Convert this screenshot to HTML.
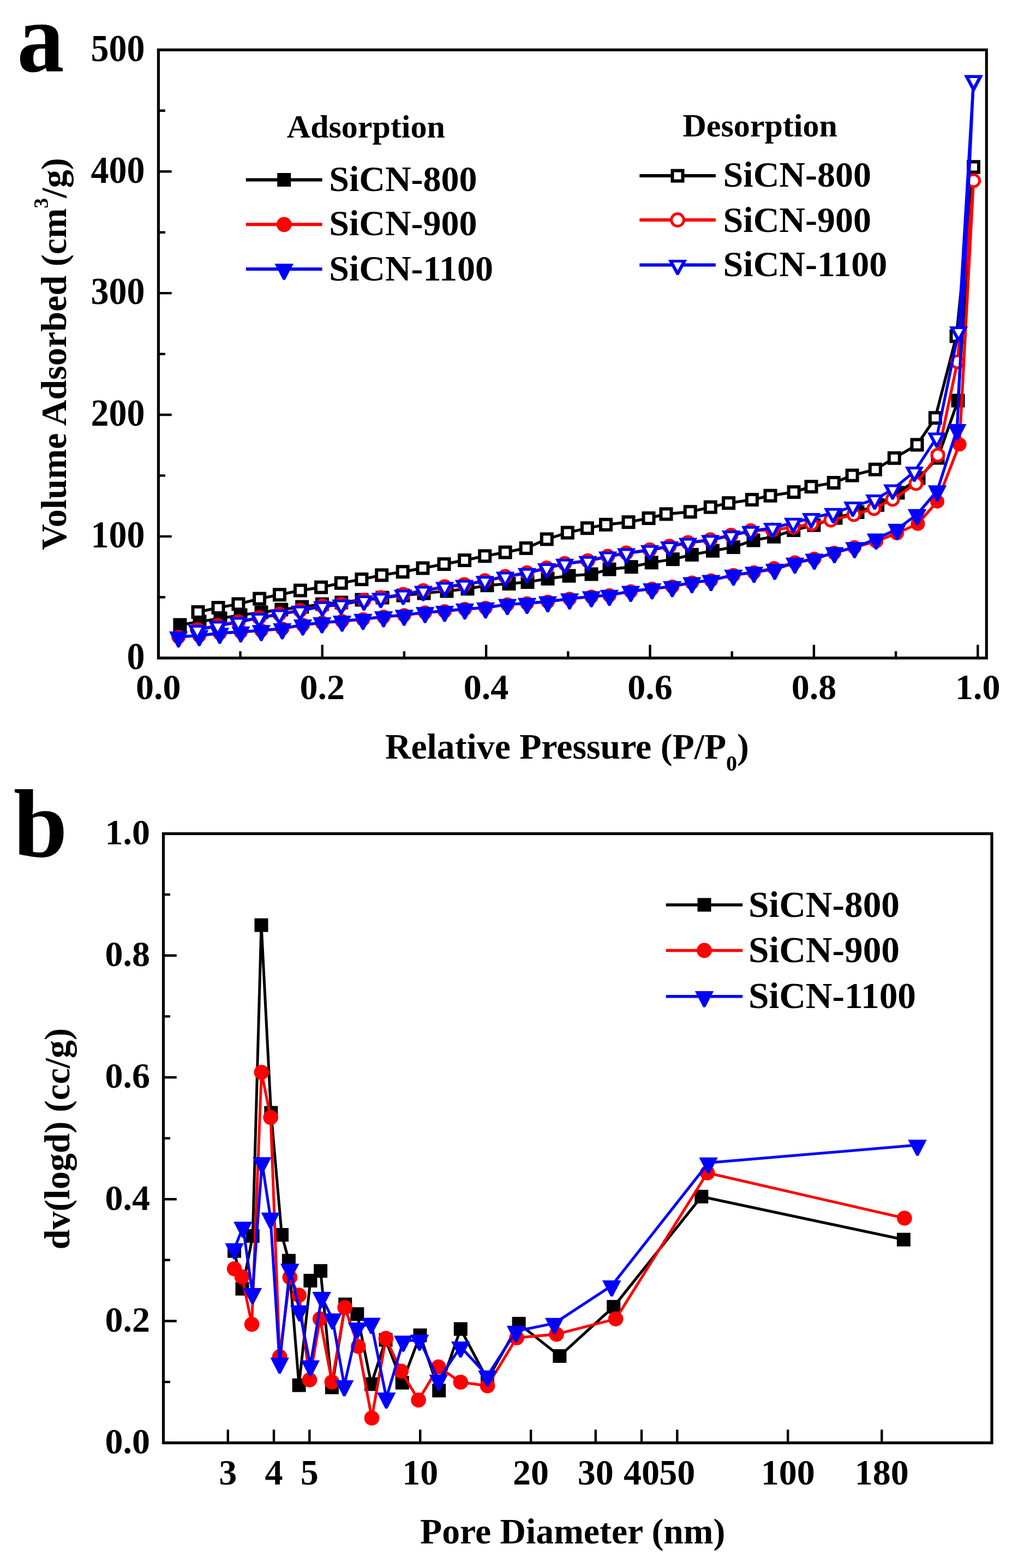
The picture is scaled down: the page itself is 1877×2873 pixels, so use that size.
<!DOCTYPE html><html><head><meta charset="utf-8"><title>SiCN N2 adsorption</title><style>html,body{margin:0;padding:0;background:#fff}svg{display:block}text{font-family:'Liberation Serif','Times New Roman',serif;font-weight:bold}</style></head><body>
<svg width="1877" height="2873" viewBox="0 0 1877 2873">
<rect width="1877" height="2873" fill="#fff"/>
<polyline points="329.9,1145 366,1139 404,1133 441,1127 479,1122 515.8,1117 553.7,1112 590.4,1107 625.8,1104 663,1099 701,1095 739,1091 777,1087 819,1083 857,1078.8 893,1072.6 933,1069.5 967,1066.5 1004,1060.3 1043,1055.1 1084,1052 1117,1043.2 1157.2,1038.7 1194.2,1030.8 1233.3,1024.7 1268.3,1016.4 1306.4,1009.2 1344.4,1002.6 1381,990 1418.6,983.3 1454.7,971.5 1491.9,962.2 1532,949 1572,938.5 1608.6,925.3 1646,903 1684,876 1719,839 1756,734 1784.5,306" fill="none" stroke="#000" stroke-width="5.2" stroke-linejoin="round"/><rect x="317.4" y="1132.5" width="25" height="25" fill="#000"/><rect x="353.5" y="1126.5" width="25" height="25" fill="#000"/><rect x="391.5" y="1120.5" width="25" height="25" fill="#000"/><rect x="428.5" y="1114.5" width="25" height="25" fill="#000"/><rect x="466.5" y="1109.5" width="25" height="25" fill="#000"/><rect x="503.3" y="1104.5" width="25" height="25" fill="#000"/><rect x="541.2" y="1099.5" width="25" height="25" fill="#000"/><rect x="577.9" y="1094.5" width="25" height="25" fill="#000"/><rect x="613.3" y="1091.5" width="25" height="25" fill="#000"/><rect x="650.5" y="1086.5" width="25" height="25" fill="#000"/><rect x="688.5" y="1082.5" width="25" height="25" fill="#000"/><rect x="726.5" y="1078.5" width="25" height="25" fill="#000"/><rect x="764.5" y="1074.5" width="25" height="25" fill="#000"/><rect x="806.5" y="1070.5" width="25" height="25" fill="#000"/><rect x="844.5" y="1066.3" width="25" height="25" fill="#000"/><rect x="880.5" y="1060.1" width="25" height="25" fill="#000"/><rect x="920.5" y="1057" width="25" height="25" fill="#000"/><rect x="954.5" y="1054" width="25" height="25" fill="#000"/><rect x="991.5" y="1047.8" width="25" height="25" fill="#000"/><rect x="1030.5" y="1042.6" width="25" height="25" fill="#000"/><rect x="1071.5" y="1039.5" width="25" height="25" fill="#000"/><rect x="1104.5" y="1030.7" width="25" height="25" fill="#000"/><rect x="1144.7" y="1026.2" width="25" height="25" fill="#000"/><rect x="1181.7" y="1018.3" width="25" height="25" fill="#000"/><rect x="1220.8" y="1012.2" width="25" height="25" fill="#000"/><rect x="1255.8" y="1003.9" width="25" height="25" fill="#000"/><rect x="1293.9" y="996.7" width="25" height="25" fill="#000"/><rect x="1331.9" y="990.1" width="25" height="25" fill="#000"/><rect x="1368.5" y="977.5" width="25" height="25" fill="#000"/><rect x="1406.1" y="970.8" width="25" height="25" fill="#000"/><rect x="1442.2" y="959" width="25" height="25" fill="#000"/><rect x="1479.4" y="949.7" width="25" height="25" fill="#000"/><rect x="1519.5" y="936.5" width="25" height="25" fill="#000"/><rect x="1559.5" y="926" width="25" height="25" fill="#000"/><rect x="1596.1" y="912.8" width="25" height="25" fill="#000"/><rect x="1633.5" y="890.5" width="25" height="25" fill="#000"/><rect x="1671.5" y="863.5" width="25" height="25" fill="#000"/><rect x="1706.5" y="826.5" width="25" height="25" fill="#000"/><rect x="1743.5" y="721.5" width="25" height="25" fill="#000"/><rect x="1772" y="293.5" width="25" height="25" fill="#000"/>
<polyline points="363,1121.4 400,1113.5 436.9,1106.8 475.6,1097 512.4,1089.7 550.4,1081.9 588.5,1076.1 625.3,1068.2 662.9,1061.5 699.7,1053.8 738.2,1047.7 775,1041 814,1033.6 851.6,1026.6 888.7,1018.8 926.1,1012 964.2,1004.4 1002.3,987.9 1040.3,976 1076.4,967.7 1110.5,961.3 1152,956.7 1189,949.5 1221,941.9 1265.2,937.8 1302.3,929.2 1335.6,921.7 1378.4,915.6 1412,908.2 1455.1,901.6 1487,891.7 1528.2,884.5 1562.1,871.1 1604.3,860.2 1639.3,839.3 1681,815 1714.3,765.7 1753,616 1784.5,306" fill="none" stroke="#000" stroke-width="5.2" stroke-linejoin="round"/><rect x="350.5" y="1108.9" width="25" height="25" fill="#000"/><rect x="356.5" y="1114.9" width="13" height="13" fill="#fff"/><rect x="387.5" y="1101" width="25" height="25" fill="#000"/><rect x="393.5" y="1107" width="13" height="13" fill="#fff"/><rect x="424.4" y="1094.3" width="25" height="25" fill="#000"/><rect x="430.4" y="1100.3" width="13" height="13" fill="#fff"/><rect x="463.1" y="1084.5" width="25" height="25" fill="#000"/><rect x="469.1" y="1090.5" width="13" height="13" fill="#fff"/><rect x="499.9" y="1077.2" width="25" height="25" fill="#000"/><rect x="505.9" y="1083.2" width="13" height="13" fill="#fff"/><rect x="537.9" y="1069.4" width="25" height="25" fill="#000"/><rect x="543.9" y="1075.4" width="13" height="13" fill="#fff"/><rect x="576" y="1063.6" width="25" height="25" fill="#000"/><rect x="582" y="1069.6" width="13" height="13" fill="#fff"/><rect x="612.8" y="1055.7" width="25" height="25" fill="#000"/><rect x="618.8" y="1061.7" width="13" height="13" fill="#fff"/><rect x="650.4" y="1049" width="25" height="25" fill="#000"/><rect x="656.4" y="1055" width="13" height="13" fill="#fff"/><rect x="687.2" y="1041.3" width="25" height="25" fill="#000"/><rect x="693.2" y="1047.3" width="13" height="13" fill="#fff"/><rect x="725.7" y="1035.2" width="25" height="25" fill="#000"/><rect x="731.7" y="1041.2" width="13" height="13" fill="#fff"/><rect x="762.5" y="1028.5" width="25" height="25" fill="#000"/><rect x="768.5" y="1034.5" width="13" height="13" fill="#fff"/><rect x="801.5" y="1021.1" width="25" height="25" fill="#000"/><rect x="807.5" y="1027.1" width="13" height="13" fill="#fff"/><rect x="839.1" y="1014.1" width="25" height="25" fill="#000"/><rect x="845.1" y="1020.1" width="13" height="13" fill="#fff"/><rect x="876.2" y="1006.3" width="25" height="25" fill="#000"/><rect x="882.2" y="1012.3" width="13" height="13" fill="#fff"/><rect x="913.6" y="999.5" width="25" height="25" fill="#000"/><rect x="919.6" y="1005.5" width="13" height="13" fill="#fff"/><rect x="951.7" y="991.9" width="25" height="25" fill="#000"/><rect x="957.7" y="997.9" width="13" height="13" fill="#fff"/><rect x="989.8" y="975.4" width="25" height="25" fill="#000"/><rect x="995.8" y="981.4" width="13" height="13" fill="#fff"/><rect x="1027.8" y="963.5" width="25" height="25" fill="#000"/><rect x="1033.8" y="969.5" width="13" height="13" fill="#fff"/><rect x="1063.9" y="955.2" width="25" height="25" fill="#000"/><rect x="1069.9" y="961.2" width="13" height="13" fill="#fff"/><rect x="1098" y="948.8" width="25" height="25" fill="#000"/><rect x="1104" y="954.8" width="13" height="13" fill="#fff"/><rect x="1139.5" y="944.2" width="25" height="25" fill="#000"/><rect x="1145.5" y="950.2" width="13" height="13" fill="#fff"/><rect x="1176.5" y="937" width="25" height="25" fill="#000"/><rect x="1182.5" y="943" width="13" height="13" fill="#fff"/><rect x="1208.5" y="929.4" width="25" height="25" fill="#000"/><rect x="1214.5" y="935.4" width="13" height="13" fill="#fff"/><rect x="1252.7" y="925.3" width="25" height="25" fill="#000"/><rect x="1258.7" y="931.3" width="13" height="13" fill="#fff"/><rect x="1289.8" y="916.7" width="25" height="25" fill="#000"/><rect x="1295.8" y="922.7" width="13" height="13" fill="#fff"/><rect x="1323.1" y="909.2" width="25" height="25" fill="#000"/><rect x="1329.1" y="915.2" width="13" height="13" fill="#fff"/><rect x="1365.9" y="903.1" width="25" height="25" fill="#000"/><rect x="1371.9" y="909.1" width="13" height="13" fill="#fff"/><rect x="1399.5" y="895.7" width="25" height="25" fill="#000"/><rect x="1405.5" y="901.7" width="13" height="13" fill="#fff"/><rect x="1442.6" y="889.1" width="25" height="25" fill="#000"/><rect x="1448.6" y="895.1" width="13" height="13" fill="#fff"/><rect x="1474.5" y="879.2" width="25" height="25" fill="#000"/><rect x="1480.5" y="885.2" width="13" height="13" fill="#fff"/><rect x="1515.7" y="872" width="25" height="25" fill="#000"/><rect x="1521.7" y="878" width="13" height="13" fill="#fff"/><rect x="1549.6" y="858.6" width="25" height="25" fill="#000"/><rect x="1555.6" y="864.6" width="13" height="13" fill="#fff"/><rect x="1591.8" y="847.7" width="25" height="25" fill="#000"/><rect x="1597.8" y="853.7" width="13" height="13" fill="#fff"/><rect x="1626.8" y="826.8" width="25" height="25" fill="#000"/><rect x="1632.8" y="832.8" width="13" height="13" fill="#fff"/><rect x="1668.5" y="802.5" width="25" height="25" fill="#000"/><rect x="1674.5" y="808.5" width="13" height="13" fill="#fff"/><rect x="1701.8" y="753.2" width="25" height="25" fill="#000"/><rect x="1707.8" y="759.2" width="13" height="13" fill="#fff"/><rect x="1740.5" y="603.5" width="25" height="25" fill="#000"/><rect x="1746.5" y="609.5" width="13" height="13" fill="#fff"/><rect x="1772" y="293.5" width="25" height="25" fill="#000"/><rect x="1778" y="299.5" width="13" height="13" fill="#fff"/>
<polyline points="327.2,1167.1 365.2,1164.5 402.8,1160.3 441.3,1157.8 478.9,1155.3 517.4,1151.9 555,1145 590.2,1141 627,1138.1 665.4,1134.7 703,1130.1 740.7,1127.2 779.1,1122.2 815,1119.9 852,1115.8 890,1113.7 930,1107.5 966,1105.5 1004,1102.4 1044,1097.2 1084,1093.2 1117,1090.7 1156.1,1083.5 1195.2,1078.8 1232.3,1074.7 1268.3,1067.5 1303.3,1063.4 1344.4,1053.7 1381.9,1048.8 1418.8,1040.9 1457,1030.4 1492.6,1023.8 1529,1013 1566,1002.7 1606,991.9 1644,977 1682.4,959.7 1718,918.9 1758.6,814.3 1784.5,331" fill="none" stroke="#f00" stroke-width="5.2" stroke-linejoin="round"/><circle cx="327.2" cy="1167.1" r="13" fill="#f00"/><circle cx="365.2" cy="1164.5" r="13" fill="#f00"/><circle cx="402.8" cy="1160.3" r="13" fill="#f00"/><circle cx="441.3" cy="1157.8" r="13" fill="#f00"/><circle cx="478.9" cy="1155.3" r="13" fill="#f00"/><circle cx="517.4" cy="1151.9" r="13" fill="#f00"/><circle cx="555" cy="1145" r="13" fill="#f00"/><circle cx="590.2" cy="1141" r="13" fill="#f00"/><circle cx="627" cy="1138.1" r="13" fill="#f00"/><circle cx="665.4" cy="1134.7" r="13" fill="#f00"/><circle cx="703" cy="1130.1" r="13" fill="#f00"/><circle cx="740.7" cy="1127.2" r="13" fill="#f00"/><circle cx="779.1" cy="1122.2" r="13" fill="#f00"/><circle cx="815" cy="1119.9" r="13" fill="#f00"/><circle cx="852" cy="1115.8" r="13" fill="#f00"/><circle cx="890" cy="1113.7" r="13" fill="#f00"/><circle cx="930" cy="1107.5" r="13" fill="#f00"/><circle cx="966" cy="1105.5" r="13" fill="#f00"/><circle cx="1004" cy="1102.4" r="13" fill="#f00"/><circle cx="1044" cy="1097.2" r="13" fill="#f00"/><circle cx="1084" cy="1093.2" r="13" fill="#f00"/><circle cx="1117" cy="1090.7" r="13" fill="#f00"/><circle cx="1156.1" cy="1083.5" r="13" fill="#f00"/><circle cx="1195.2" cy="1078.8" r="13" fill="#f00"/><circle cx="1232.3" cy="1074.7" r="13" fill="#f00"/><circle cx="1268.3" cy="1067.5" r="13" fill="#f00"/><circle cx="1303.3" cy="1063.4" r="13" fill="#f00"/><circle cx="1344.4" cy="1053.7" r="13" fill="#f00"/><circle cx="1381.9" cy="1048.8" r="13" fill="#f00"/><circle cx="1418.8" cy="1040.9" r="13" fill="#f00"/><circle cx="1457" cy="1030.4" r="13" fill="#f00"/><circle cx="1492.6" cy="1023.8" r="13" fill="#f00"/><circle cx="1529" cy="1013" r="13" fill="#f00"/><circle cx="1566" cy="1002.7" r="13" fill="#f00"/><circle cx="1606" cy="991.9" r="13" fill="#f00"/><circle cx="1644" cy="977" r="13" fill="#f00"/><circle cx="1682.4" cy="959.7" r="13" fill="#f00"/><circle cx="1718" cy="918.9" r="13" fill="#f00"/><circle cx="1758.6" cy="814.3" r="13" fill="#f00"/><circle cx="1784.5" cy="331" r="13" fill="#f00"/>
<polyline points="361.7,1153.4 399,1146.1 436.8,1138.9 475,1131.5 512,1125 550,1118.2 591,1110.3 625.3,1107 667.1,1099.4 698,1094.8 739,1089 775.8,1081.9 815,1074.7 851,1070.9 888.7,1063.7 926,1056 966,1049.3 1002,1040.5 1035,1032.3 1077.4,1027.2 1114,1019.1 1148,1013 1191,1007.3 1227,1000.6 1261,993.9 1302,988.8 1340,980.5 1376,972.3 1416,971 1454,966 1488,960 1523,953 1565,943 1602,932 1636,915 1679,886 1719,834 1755,663 1784.5,331" fill="none" stroke="#f00" stroke-width="5.2" stroke-linejoin="round"/><circle cx="361.7" cy="1153.4" r="13.5" fill="#f00"/><circle cx="361.7" cy="1153.4" r="8.5" fill="#fff"/><circle cx="399" cy="1146.1" r="13.5" fill="#f00"/><circle cx="399" cy="1146.1" r="8.5" fill="#fff"/><circle cx="436.8" cy="1138.9" r="13.5" fill="#f00"/><circle cx="436.8" cy="1138.9" r="8.5" fill="#fff"/><circle cx="475" cy="1131.5" r="13.5" fill="#f00"/><circle cx="475" cy="1131.5" r="8.5" fill="#fff"/><circle cx="512" cy="1125" r="13.5" fill="#f00"/><circle cx="512" cy="1125" r="8.5" fill="#fff"/><circle cx="550" cy="1118.2" r="13.5" fill="#f00"/><circle cx="550" cy="1118.2" r="8.5" fill="#fff"/><circle cx="591" cy="1110.3" r="13.5" fill="#f00"/><circle cx="591" cy="1110.3" r="8.5" fill="#fff"/><circle cx="625.3" cy="1107" r="13.5" fill="#f00"/><circle cx="625.3" cy="1107" r="8.5" fill="#fff"/><circle cx="667.1" cy="1099.4" r="13.5" fill="#f00"/><circle cx="667.1" cy="1099.4" r="8.5" fill="#fff"/><circle cx="698" cy="1094.8" r="13.5" fill="#f00"/><circle cx="698" cy="1094.8" r="8.5" fill="#fff"/><circle cx="739" cy="1089" r="13.5" fill="#f00"/><circle cx="739" cy="1089" r="8.5" fill="#fff"/><circle cx="775.8" cy="1081.9" r="13.5" fill="#f00"/><circle cx="775.8" cy="1081.9" r="8.5" fill="#fff"/><circle cx="815" cy="1074.7" r="13.5" fill="#f00"/><circle cx="815" cy="1074.7" r="8.5" fill="#fff"/><circle cx="851" cy="1070.9" r="13.5" fill="#f00"/><circle cx="851" cy="1070.9" r="8.5" fill="#fff"/><circle cx="888.7" cy="1063.7" r="13.5" fill="#f00"/><circle cx="888.7" cy="1063.7" r="8.5" fill="#fff"/><circle cx="926" cy="1056" r="13.5" fill="#f00"/><circle cx="926" cy="1056" r="8.5" fill="#fff"/><circle cx="966" cy="1049.3" r="13.5" fill="#f00"/><circle cx="966" cy="1049.3" r="8.5" fill="#fff"/><circle cx="1002" cy="1040.5" r="13.5" fill="#f00"/><circle cx="1002" cy="1040.5" r="8.5" fill="#fff"/><circle cx="1035" cy="1032.3" r="13.5" fill="#f00"/><circle cx="1035" cy="1032.3" r="8.5" fill="#fff"/><circle cx="1077.4" cy="1027.2" r="13.5" fill="#f00"/><circle cx="1077.4" cy="1027.2" r="8.5" fill="#fff"/><circle cx="1114" cy="1019.1" r="13.5" fill="#f00"/><circle cx="1114" cy="1019.1" r="8.5" fill="#fff"/><circle cx="1148" cy="1013" r="13.5" fill="#f00"/><circle cx="1148" cy="1013" r="8.5" fill="#fff"/><circle cx="1191" cy="1007.3" r="13.5" fill="#f00"/><circle cx="1191" cy="1007.3" r="8.5" fill="#fff"/><circle cx="1227" cy="1000.6" r="13.5" fill="#f00"/><circle cx="1227" cy="1000.6" r="8.5" fill="#fff"/><circle cx="1261" cy="993.9" r="13.5" fill="#f00"/><circle cx="1261" cy="993.9" r="8.5" fill="#fff"/><circle cx="1302" cy="988.8" r="13.5" fill="#f00"/><circle cx="1302" cy="988.8" r="8.5" fill="#fff"/><circle cx="1340" cy="980.5" r="13.5" fill="#f00"/><circle cx="1340" cy="980.5" r="8.5" fill="#fff"/><circle cx="1376" cy="972.3" r="13.5" fill="#f00"/><circle cx="1376" cy="972.3" r="8.5" fill="#fff"/><circle cx="1416" cy="971" r="13.5" fill="#f00"/><circle cx="1416" cy="971" r="8.5" fill="#fff"/><circle cx="1454" cy="966" r="13.5" fill="#f00"/><circle cx="1454" cy="966" r="8.5" fill="#fff"/><circle cx="1488" cy="960" r="13.5" fill="#f00"/><circle cx="1488" cy="960" r="8.5" fill="#fff"/><circle cx="1523" cy="953" r="13.5" fill="#f00"/><circle cx="1523" cy="953" r="8.5" fill="#fff"/><circle cx="1565" cy="943" r="13.5" fill="#f00"/><circle cx="1565" cy="943" r="8.5" fill="#fff"/><circle cx="1602" cy="932" r="13.5" fill="#f00"/><circle cx="1602" cy="932" r="8.5" fill="#fff"/><circle cx="1636" cy="915" r="13.5" fill="#f00"/><circle cx="1636" cy="915" r="8.5" fill="#fff"/><circle cx="1679" cy="886" r="13.5" fill="#f00"/><circle cx="1679" cy="886" r="8.5" fill="#fff"/><circle cx="1719" cy="834" r="13.5" fill="#f00"/><circle cx="1719" cy="834" r="8.5" fill="#fff"/><circle cx="1755" cy="663" r="13.5" fill="#f00"/><circle cx="1755" cy="663" r="8.5" fill="#fff"/><circle cx="1784.5" cy="331" r="13.5" fill="#f00"/><circle cx="1784.5" cy="331" r="8.5" fill="#fff"/>
<polyline points="327.2,1166.9 365.2,1164.3 402.8,1160.1 441.3,1157.6 478.9,1155.1 517.4,1151.7 555,1144.8 590.2,1140.8 627,1137.9 665.4,1134.5 703,1129.9 740.7,1127 779.1,1122 815,1119.7 852,1115.6 890,1113.5 930,1107.3 966,1105.3 1004,1102.2 1044,1097 1084,1093 1117,1090.5 1156.1,1083.3 1195.2,1078.6 1232.3,1074.5 1268.3,1067.3 1303.3,1063.2 1344.4,1053.5 1382,1048.3 1420.1,1042.7 1457,1031.5 1492.6,1024.2 1529.5,1012.4 1566.4,1003.1 1606,987.3 1644.2,969.5 1681.1,942.5 1718,899 1754.3,786.7 1784.5,147.2" fill="none" stroke="#00f" stroke-width="5.2" stroke-linejoin="round"/><polygon points="309.9,1157.1 344.4,1157.1 329.2,1186.6 325.2,1186.6" fill="#00f"/><polygon points="347.9,1154.5 382.4,1154.5 367.2,1184 363.2,1184" fill="#00f"/><polygon points="385.6,1150.3 420.1,1150.3 404.8,1179.8 400.8,1179.8" fill="#00f"/><polygon points="424.1,1147.8 458.6,1147.8 443.3,1177.3 439.3,1177.3" fill="#00f"/><polygon points="461.6,1145.3 496.1,1145.3 480.9,1174.8 476.9,1174.8" fill="#00f"/><polygon points="500.1,1141.9 534.6,1141.9 519.4,1171.4 515.4,1171.4" fill="#00f"/><polygon points="537.8,1135 572.2,1135 557,1164.5 553,1164.5" fill="#00f"/><polygon points="573,1131 607.5,1131 592.2,1160.5 588.2,1160.5" fill="#00f"/><polygon points="609.8,1128.1 644.2,1128.1 629,1157.6 625,1157.6" fill="#00f"/><polygon points="648.1,1124.7 682.6,1124.7 667.4,1154.2 663.4,1154.2" fill="#00f"/><polygon points="685.8,1120.1 720.2,1120.1 705,1149.6 701,1149.6" fill="#00f"/><polygon points="723.5,1117.2 758,1117.2 742.7,1146.7 738.7,1146.7" fill="#00f"/><polygon points="761.9,1112.2 796.4,1112.2 781.1,1141.7 777.1,1141.7" fill="#00f"/><polygon points="797.8,1109.9 832.2,1109.9 817,1139.4 813,1139.4" fill="#00f"/><polygon points="834.8,1105.8 869.2,1105.8 854,1135.3 850,1135.3" fill="#00f"/><polygon points="872.8,1103.7 907.2,1103.7 892,1133.2 888,1133.2" fill="#00f"/><polygon points="912.8,1097.5 947.2,1097.5 932,1127 928,1127" fill="#00f"/><polygon points="948.8,1095.5 983.2,1095.5 968,1125 964,1125" fill="#00f"/><polygon points="986.8,1092.4 1021.2,1092.4 1006,1121.9 1002,1121.9" fill="#00f"/><polygon points="1026.8,1087.2 1061.2,1087.2 1046,1116.7 1042,1116.7" fill="#00f"/><polygon points="1066.8,1083.2 1101.2,1083.2 1086,1112.7 1082,1112.7" fill="#00f"/><polygon points="1099.8,1080.7 1134.2,1080.7 1119,1110.2 1115,1110.2" fill="#00f"/><polygon points="1138.8,1073.5 1173.3,1073.5 1158.1,1103 1154.1,1103" fill="#00f"/><polygon points="1178,1068.8 1212.5,1068.8 1197.2,1098.3 1193.2,1098.3" fill="#00f"/><polygon points="1215,1064.7 1249.5,1064.7 1234.3,1094.2 1230.3,1094.2" fill="#00f"/><polygon points="1251,1057.5 1285.5,1057.5 1270.3,1087 1266.3,1087" fill="#00f"/><polygon points="1286,1053.4 1320.5,1053.4 1305.3,1082.9 1301.3,1082.9" fill="#00f"/><polygon points="1327.2,1043.7 1361.7,1043.7 1346.4,1073.2 1342.4,1073.2" fill="#00f"/><polygon points="1364.8,1038.5 1399.2,1038.5 1384,1068 1380,1068" fill="#00f"/><polygon points="1402.8,1032.9 1437.3,1032.9 1422.1,1062.4 1418.1,1062.4" fill="#00f"/><polygon points="1439.8,1021.7 1474.2,1021.7 1459,1051.2 1455,1051.2" fill="#00f"/><polygon points="1475.3,1014.4 1509.8,1014.4 1494.6,1043.9 1490.6,1043.9" fill="#00f"/><polygon points="1512.2,1002.6 1546.8,1002.6 1531.5,1032.1 1527.5,1032.1" fill="#00f"/><polygon points="1549.2,993.3 1583.7,993.3 1568.4,1022.8 1564.4,1022.8" fill="#00f"/><polygon points="1588.8,977.5 1623.2,977.5 1608,1007 1604,1007" fill="#00f"/><polygon points="1627,959.7 1661.5,959.7 1646.2,989.2 1642.2,989.2" fill="#00f"/><polygon points="1663.8,932.7 1698.3,932.7 1683.1,962.2 1679.1,962.2" fill="#00f"/><polygon points="1700.8,889.2 1735.2,889.2 1720,918.7 1716,918.7" fill="#00f"/><polygon points="1737,776.9 1771.5,776.9 1756.3,806.4 1752.3,806.4" fill="#00f"/><polygon points="1767.2,137.4 1801.8,137.4 1786.5,166.9 1782.5,166.9" fill="#00f"/>
<polyline points="361.7,1154.2 399,1146.9 436.8,1139.7 475,1132.3 512,1125.8 550,1119 591,1111.1 625.3,1107.8 667.1,1100.2 698,1095.6 739,1089.8 775.8,1082.7 815,1075.5 851,1071.7 888.7,1064.5 926,1056.8 966,1050.1 1002,1041.3 1035,1033.1 1077.4,1028 1114,1019.9 1148,1013.8 1191,1008.1 1227,1001.4 1261,994.7 1302,989.6 1340,981.3 1376,973.1 1416,967.3 1454,958 1487,949.3 1527.1,940 1563.2,928.2 1603.3,915.3 1636.2,896.8 1676,864.3 1717,801.7 1757.1,607.4 1784.5,147.2" fill="none" stroke="#00f" stroke-width="5.2" stroke-linejoin="round"/><polygon points="344.5,1144.9 378.9,1144.9 363.7,1172.9 359.7,1172.9" fill="#00f"/><polygon points="353.9,1149.9 369.4,1149.9 361.7,1164.4" fill="#fff"/><polygon points="381.8,1137.6 416.2,1137.6 401,1165.6 397,1165.6" fill="#00f"/><polygon points="391.2,1142.6 406.8,1142.6 399,1157.1" fill="#fff"/><polygon points="419.6,1130.4 454,1130.4 438.8,1158.4 434.8,1158.4" fill="#00f"/><polygon points="429.1,1135.4 444.6,1135.4 436.8,1149.9" fill="#fff"/><polygon points="457.8,1123 492.2,1123 477,1151 473,1151" fill="#00f"/><polygon points="467.2,1128 482.8,1128 475,1142.5" fill="#fff"/><polygon points="494.8,1116.5 529.2,1116.5 514,1144.5 510,1144.5" fill="#00f"/><polygon points="504.2,1121.5 519.8,1121.5 512,1136" fill="#fff"/><polygon points="532.8,1109.7 567.2,1109.7 552,1137.7 548,1137.7" fill="#00f"/><polygon points="542.2,1114.7 557.8,1114.7 550,1129.2" fill="#fff"/><polygon points="573.8,1101.8 608.2,1101.8 593,1129.8 589,1129.8" fill="#00f"/><polygon points="583.2,1106.8 598.8,1106.8 591,1121.3" fill="#fff"/><polygon points="608.1,1098.5 642.5,1098.5 627.3,1126.5 623.3,1126.5" fill="#00f"/><polygon points="617.5,1103.5 633,1103.5 625.3,1118" fill="#fff"/><polygon points="649.9,1090.9 684.3,1090.9 669.1,1118.9 665.1,1118.9" fill="#00f"/><polygon points="659.4,1095.9 674.9,1095.9 667.1,1110.4" fill="#fff"/><polygon points="680.8,1086.3 715.2,1086.3 700,1114.3 696,1114.3" fill="#00f"/><polygon points="690.2,1091.3 705.8,1091.3 698,1105.8" fill="#fff"/><polygon points="721.8,1080.5 756.2,1080.5 741,1108.5 737,1108.5" fill="#00f"/><polygon points="731.2,1085.5 746.8,1085.5 739,1100" fill="#fff"/><polygon points="758.6,1073.4 793,1073.4 777.8,1101.4 773.8,1101.4" fill="#00f"/><polygon points="768,1078.4 783.5,1078.4 775.8,1092.9" fill="#fff"/><polygon points="797.8,1066.2 832.2,1066.2 817,1094.2 813,1094.2" fill="#00f"/><polygon points="807.2,1071.2 822.8,1071.2 815,1085.7" fill="#fff"/><polygon points="833.8,1062.4 868.2,1062.4 853,1090.4 849,1090.4" fill="#00f"/><polygon points="843.2,1067.4 858.8,1067.4 851,1081.9" fill="#fff"/><polygon points="871.5,1055.2 905.9,1055.2 890.7,1083.2 886.7,1083.2" fill="#00f"/><polygon points="881,1060.2 896.5,1060.2 888.7,1074.7" fill="#fff"/><polygon points="908.8,1047.5 943.2,1047.5 928,1075.5 924,1075.5" fill="#00f"/><polygon points="918.2,1052.5 933.8,1052.5 926,1067" fill="#fff"/><polygon points="948.8,1040.8 983.2,1040.8 968,1068.8 964,1068.8" fill="#00f"/><polygon points="958.2,1045.8 973.8,1045.8 966,1060.3" fill="#fff"/><polygon points="984.8,1032 1019.2,1032 1004,1060 1000,1060" fill="#00f"/><polygon points="994.2,1037 1009.8,1037 1002,1051.5" fill="#fff"/><polygon points="1017.8,1023.8 1052.2,1023.8 1037,1051.8 1033,1051.8" fill="#00f"/><polygon points="1027.2,1028.8 1042.8,1028.8 1035,1043.3" fill="#fff"/><polygon points="1060.2,1018.7 1094.6,1018.7 1079.4,1046.7 1075.4,1046.7" fill="#00f"/><polygon points="1069.7,1023.7 1085.2,1023.7 1077.4,1038.2" fill="#fff"/><polygon points="1096.8,1010.6 1131.2,1010.6 1116,1038.6 1112,1038.6" fill="#00f"/><polygon points="1106.2,1015.6 1121.8,1015.6 1114,1030.1" fill="#fff"/><polygon points="1130.8,1004.5 1165.2,1004.5 1150,1032.5 1146,1032.5" fill="#00f"/><polygon points="1140.2,1009.5 1155.8,1009.5 1148,1024" fill="#fff"/><polygon points="1173.8,998.8 1208.2,998.8 1193,1026.8 1189,1026.8" fill="#00f"/><polygon points="1183.2,1003.8 1198.8,1003.8 1191,1018.3" fill="#fff"/><polygon points="1209.8,992.1 1244.2,992.1 1229,1020.1 1225,1020.1" fill="#00f"/><polygon points="1219.2,997.1 1234.8,997.1 1227,1011.6" fill="#fff"/><polygon points="1243.8,985.4 1278.2,985.4 1263,1013.4 1259,1013.4" fill="#00f"/><polygon points="1253.2,990.4 1268.8,990.4 1261,1004.9" fill="#fff"/><polygon points="1284.8,980.3 1319.2,980.3 1304,1008.3 1300,1008.3" fill="#00f"/><polygon points="1294.2,985.3 1309.8,985.3 1302,999.8" fill="#fff"/><polygon points="1322.8,972 1357.2,972 1342,1000 1338,1000" fill="#00f"/><polygon points="1332.2,977 1347.8,977 1340,991.5" fill="#fff"/><polygon points="1358.8,963.8 1393.2,963.8 1378,991.8 1374,991.8" fill="#00f"/><polygon points="1368.2,968.8 1383.8,968.8 1376,983.3" fill="#fff"/><polygon points="1398.8,958 1433.2,958 1418,986 1414,986" fill="#00f"/><polygon points="1408.2,963 1423.8,963 1416,977.5" fill="#fff"/><polygon points="1436.8,948.7 1471.2,948.7 1456,976.7 1452,976.7" fill="#00f"/><polygon points="1446.2,953.7 1461.8,953.7 1454,968.2" fill="#fff"/><polygon points="1469.8,940 1504.2,940 1489,968 1485,968" fill="#00f"/><polygon points="1479.2,945 1494.8,945 1487,959.5" fill="#fff"/><polygon points="1509.9,930.7 1544.3,930.7 1529.1,958.7 1525.1,958.7" fill="#00f"/><polygon points="1519.3,935.7 1534.8,935.7 1527.1,950.2" fill="#fff"/><polygon points="1546,918.9 1580.4,918.9 1565.2,946.9 1561.2,946.9" fill="#00f"/><polygon points="1555.5,923.9 1571,923.9 1563.2,938.4" fill="#fff"/><polygon points="1586.1,906 1620.5,906 1605.3,934 1601.3,934" fill="#00f"/><polygon points="1595.5,911 1611,911 1603.3,925.5" fill="#fff"/><polygon points="1619,887.5 1653.4,887.5 1638.2,915.5 1634.2,915.5" fill="#00f"/><polygon points="1628.5,892.5 1644,892.5 1636.2,907" fill="#fff"/><polygon points="1658.8,855 1693.2,855 1678,883 1674,883" fill="#00f"/><polygon points="1668.2,860 1683.8,860 1676,874.5" fill="#fff"/><polygon points="1699.8,792.4 1734.2,792.4 1719,820.4 1715,820.4" fill="#00f"/><polygon points="1709.2,797.4 1724.8,797.4 1717,811.9" fill="#fff"/><polygon points="1739.9,598.1 1774.3,598.1 1759.1,626.1 1755.1,626.1" fill="#00f"/><polygon points="1749.3,603.1 1764.8,603.1 1757.1,617.6" fill="#fff"/><polygon points="1767.3,137.9 1801.7,137.9 1786.5,165.9 1782.5,165.9" fill="#00f"/><polygon points="1776.8,142.9 1792.2,142.9 1784.5,157.4" fill="#fff"/>
<path d="M290.4 1205.8H314.7M290.4 1094.3H302.9M290.4 982.9H314.7M290.4 871.4H302.9M290.4 760H314.7M290.4 648.6H302.9M290.4 537.1H314.7M290.4 425.7H302.9M290.4 314.3H314.7M290.4 202.8H302.9M290.4 91.4H314.7M290.3 1205.8V1181.5M440.5 1205.8V1193.2M590.7 1205.8V1181.5M740.9 1205.8V1193.2M891.1 1205.8V1181.5M1041.3 1205.8V1193.2M1191.5 1205.8V1181.5M1341.7 1205.8V1193.2M1491.9 1205.8V1181.5M1642.1 1205.8V1193.2M1792.3 1205.8V1181.5" stroke="#000" stroke-width="4.4" fill="none"/>
<rect x="290.4" y="91.4" width="1517.9" height="1114.3" fill="none" stroke="#000" stroke-width="5.2"/>
<text x="0" y="0" font-size="66" text-anchor="end" transform="translate(265.6 1226) scale(1 1.06)">0</text>
<text x="0" y="0" font-size="66" text-anchor="end" transform="translate(265.6 1003.1) scale(1 1.06)">100</text>
<text x="0" y="0" font-size="66" text-anchor="end" transform="translate(265.6 780.2) scale(1 1.06)">200</text>
<text x="0" y="0" font-size="66" text-anchor="end" transform="translate(265.6 557.3) scale(1 1.06)">300</text>
<text x="0" y="0" font-size="66" text-anchor="end" transform="translate(265.6 334.5) scale(1 1.06)">400</text>
<text x="0" y="0" font-size="66" text-anchor="end" transform="translate(265.6 111.6) scale(1 1.06)">500</text>
<text x="290.3" y="1281" font-size="66" text-anchor="middle">0.0</text>
<text x="590.7" y="1281" font-size="66" text-anchor="middle">0.2</text>
<text x="891.1" y="1281" font-size="66" text-anchor="middle">0.4</text>
<text x="1191.5" y="1281" font-size="66" text-anchor="middle">0.6</text>
<text x="1491.9" y="1281" font-size="66" text-anchor="middle">0.8</text>
<text x="1792.3" y="1281" font-size="66" text-anchor="middle">1.0</text>
<text x="706" y="1389.6" font-size="65.7" text-anchor="start">Relative Pressure (P/P<tspan font-size="40" dy="22">0</tspan><tspan dy="-22">)</tspan></text>
<text x="0" y="0" font-size="66.2" text-anchor="middle" transform="translate(120.5 648.6) rotate(-90)">Volume Adsorbed (cm<tspan font-size="38" dy="-33">3</tspan><tspan dy="33">/g)</tspan></text>
<text x="0" y="0" font-size="178" text-anchor="start" transform="translate(31.3 130.5) scale(0.97 1.02)">a</text>
<text x="525.8" y="251.7" font-size="60" text-anchor="start">Adsorption</text>
<text x="1251.5" y="250.2" font-size="60" text-anchor="start">Desorption</text>
<path d="M450.8 329.5H590.6" stroke="#000" stroke-width="6"/>
<rect x="508.2" y="317" width="25" height="25" fill="#000"/>
<text x="603.2" y="349.9" font-size="66" text-anchor="start">SiCN-800</text>
<path d="M450.8 411.3H590.6" stroke="#f00" stroke-width="6"/>
<circle cx="520.7" cy="411.3" r="13.9" fill="#f00"/>
<text x="603.2" y="431.4" font-size="66" text-anchor="start">SiCN-900</text>
<path d="M450.8 493.1H590.6" stroke="#00f" stroke-width="6"/>
<polygon points="503.5,483.3 538,483.3 522.7,512.8 518.7,512.8" fill="#00f"/>
<text x="603.2" y="513.5" font-size="66" text-anchor="start">SiCN-1100</text>
<path d="M1172.3 322.1H1311.9" stroke="#000" stroke-width="6"/>
<rect x="1229.5" y="309.6" width="25" height="25" fill="#000"/><rect x="1235.5" y="315.6" width="13" height="13" fill="#fff"/>
<text x="1325.6" y="341.9" font-size="66" text-anchor="start">SiCN-800</text>
<path d="M1172.3 403H1311.9" stroke="#f00" stroke-width="6"/>
<circle cx="1242" cy="403" r="13.9" fill="#f00"/><circle cx="1242" cy="403" r="8.9" fill="#fff"/>
<text x="1325.6" y="424.6" font-size="66" text-anchor="start">SiCN-900</text>
<path d="M1172.3 485.4H1311.9" stroke="#00f" stroke-width="6"/>
<polygon points="1224.8,476.1 1259.2,476.1 1244,504.1 1240,504.1" fill="#00f"/><polygon points="1234.2,481.1 1249.8,481.1 1242,495.6" fill="#fff"/>
<text x="1325.6" y="506.4" font-size="66" text-anchor="start">SiCN-1100</text>
<polyline points="429.6,2292.2 444,2361.3 463.2,2264.6 479,1695.1 496.8,2039 516.5,2262.6 529.4,2310 548.1,2538.1 568.9,2346.5 587.6,2328.7 608.4,2542 632.7,2390 654.8,2407.7 680.5,2536.1 707,2455 737.2,2533.5 770,2446.6 804.7,2547.9 844.3,2435.1 893.5,2528 951.1,2425.4 1025.9,2484.6 1124.7,2394.4 1285.8,2192.5 1656.4,2271.3" fill="none" stroke="#000" stroke-width="5" stroke-linejoin="round"/><rect x="417.1" y="2279.7" width="25" height="25" fill="#000"/><rect x="431.5" y="2348.8" width="25" height="25" fill="#000"/><rect x="450.7" y="2252.1" width="25" height="25" fill="#000"/><rect x="466.5" y="1682.6" width="25" height="25" fill="#000"/><rect x="484.3" y="2026.5" width="25" height="25" fill="#000"/><rect x="504" y="2250.1" width="25" height="25" fill="#000"/><rect x="516.9" y="2297.5" width="25" height="25" fill="#000"/><rect x="535.6" y="2525.6" width="25" height="25" fill="#000"/><rect x="556.4" y="2334" width="25" height="25" fill="#000"/><rect x="575.1" y="2316.2" width="25" height="25" fill="#000"/><rect x="595.9" y="2529.5" width="25" height="25" fill="#000"/><rect x="620.2" y="2377.5" width="25" height="25" fill="#000"/><rect x="642.3" y="2395.2" width="25" height="25" fill="#000"/><rect x="668" y="2523.6" width="25" height="25" fill="#000"/><rect x="694.5" y="2442.5" width="25" height="25" fill="#000"/><rect x="724.7" y="2521" width="25" height="25" fill="#000"/><rect x="757.5" y="2434.1" width="25" height="25" fill="#000"/><rect x="792.2" y="2535.4" width="25" height="25" fill="#000"/><rect x="831.8" y="2422.6" width="25" height="25" fill="#000"/><rect x="881" y="2515.5" width="25" height="25" fill="#000"/><rect x="938.6" y="2412.9" width="25" height="25" fill="#000"/><rect x="1013.4" y="2472.1" width="25" height="25" fill="#000"/><rect x="1112.2" y="2381.9" width="25" height="25" fill="#000"/><rect x="1273.3" y="2180" width="25" height="25" fill="#000"/><rect x="1643.9" y="2258.8" width="25" height="25" fill="#000"/>
<polyline points="429.6,2324.8 443.5,2339.6 461.6,2426.5 479.3,1964.7 496.1,2047.5 512.6,2485.8 531.3,2340.6 548.1,2373.2 567.5,2528.2 586.6,2416.6 608.4,2532.2 632.1,2395.9 656.8,2467 681.5,2598.3 707.3,2452.4 735.2,2512.2 767.1,2565.3 803.7,2504.5 844.3,2532.5 893.5,2539.2 947,2451.3 1020,2444.7 1128.6,2416.6 1296.6,2149 1657.9,2232" fill="none" stroke="#f00" stroke-width="5" stroke-linejoin="round"/><circle cx="429.6" cy="2324.8" r="13.8" fill="#f00"/><circle cx="443.5" cy="2339.6" r="13.8" fill="#f00"/><circle cx="461.6" cy="2426.5" r="13.8" fill="#f00"/><circle cx="479.3" cy="1964.7" r="13.8" fill="#f00"/><circle cx="496.1" cy="2047.5" r="13.8" fill="#f00"/><circle cx="512.6" cy="2485.8" r="13.8" fill="#f00"/><circle cx="531.3" cy="2340.6" r="13.8" fill="#f00"/><circle cx="548.1" cy="2373.2" r="13.8" fill="#f00"/><circle cx="567.5" cy="2528.2" r="13.8" fill="#f00"/><circle cx="586.6" cy="2416.6" r="13.8" fill="#f00"/><circle cx="608.4" cy="2532.2" r="13.8" fill="#f00"/><circle cx="632.1" cy="2395.9" r="13.8" fill="#f00"/><circle cx="656.8" cy="2467" r="13.8" fill="#f00"/><circle cx="681.5" cy="2598.3" r="13.8" fill="#f00"/><circle cx="707.3" cy="2452.4" r="13.8" fill="#f00"/><circle cx="735.2" cy="2512.2" r="13.8" fill="#f00"/><circle cx="767.1" cy="2565.3" r="13.8" fill="#f00"/><circle cx="803.7" cy="2504.5" r="13.8" fill="#f00"/><circle cx="844.3" cy="2532.5" r="13.8" fill="#f00"/><circle cx="893.5" cy="2539.2" r="13.8" fill="#f00"/><circle cx="947" cy="2451.3" r="13.8" fill="#f00"/><circle cx="1020" cy="2444.7" r="13.8" fill="#f00"/><circle cx="1128.6" cy="2416.6" r="13.8" fill="#f00"/><circle cx="1296.6" cy="2149" r="13.8" fill="#f00"/><circle cx="1657.9" cy="2232" r="13.8" fill="#f00"/>
<polyline points="429.6,2287.9 445.4,2248.4 462.8,2369.8 480.3,2130 495.8,2231.6 512.6,2497.2 531.3,2325.4 549.1,2401.5 568.9,2502.2 589.6,2376.8 609.4,2416.3 631.1,2538.7 654.8,2433.1 680.5,2424.2 708.2,2561.3 739.1,2457.1 769,2455.2 803.7,2528.5 844.3,2467.7 893.5,2520.8 946,2439 1016.2,2424.6 1121.2,2355.9 1298.6,2130.6 1681.6,2098" fill="none" stroke="#00f" stroke-width="5" stroke-linejoin="round"/><polygon points="412.4,2278.1 446.9,2278.1 431.6,2307.6 427.6,2307.6" fill="#00f"/><polygon points="428.1,2238.6 462.6,2238.6 447.4,2268.1 443.4,2268.1" fill="#00f"/><polygon points="445.6,2360 480.1,2360 464.8,2389.5 460.8,2389.5" fill="#00f"/><polygon points="463.1,2120.2 497.6,2120.2 482.3,2149.7 478.3,2149.7" fill="#00f"/><polygon points="478.6,2221.8 513,2221.8 497.8,2251.3 493.8,2251.3" fill="#00f"/><polygon points="495.4,2487.4 529.9,2487.4 514.6,2516.9 510.6,2516.9" fill="#00f"/><polygon points="514,2315.6 548.5,2315.6 533.3,2345.1 529.3,2345.1" fill="#00f"/><polygon points="531.9,2391.7 566.4,2391.7 551.1,2421.2 547.1,2421.2" fill="#00f"/><polygon points="551.6,2492.4 586.1,2492.4 570.9,2521.9 566.9,2521.9" fill="#00f"/><polygon points="572.4,2367 606.9,2367 591.6,2396.5 587.6,2396.5" fill="#00f"/><polygon points="592.1,2406.5 626.6,2406.5 611.4,2436 607.4,2436" fill="#00f"/><polygon points="613.9,2528.9 648.4,2528.9 633.1,2558.4 629.1,2558.4" fill="#00f"/><polygon points="637.5,2423.3 672,2423.3 656.8,2452.8 652.8,2452.8" fill="#00f"/><polygon points="663.2,2414.4 697.8,2414.4 682.5,2443.9 678.5,2443.9" fill="#00f"/><polygon points="691,2551.5 725.5,2551.5 710.2,2581 706.2,2581" fill="#00f"/><polygon points="721.9,2447.3 756.4,2447.3 741.1,2476.8 737.1,2476.8" fill="#00f"/><polygon points="751.8,2445.4 786.2,2445.4 771,2474.9 767,2474.9" fill="#00f"/><polygon points="786.5,2518.7 821,2518.7 805.7,2548.2 801.7,2548.2" fill="#00f"/><polygon points="827,2457.9 861.5,2457.9 846.3,2487.4 842.3,2487.4" fill="#00f"/><polygon points="876.2,2511 910.8,2511 895.5,2540.5 891.5,2540.5" fill="#00f"/><polygon points="928.8,2429.2 963.2,2429.2 948,2458.7 944,2458.7" fill="#00f"/><polygon points="999,2414.8 1033.5,2414.8 1018.2,2444.3 1014.2,2444.3" fill="#00f"/><polygon points="1104,2346.1 1138.5,2346.1 1123.2,2375.6 1119.2,2375.6" fill="#00f"/><polygon points="1281.3,2120.8 1315.8,2120.8 1300.6,2150.3 1296.6,2150.3" fill="#00f"/><polygon points="1664.3,2088.2 1698.8,2088.2 1683.6,2117.7 1679.6,2117.7" fill="#00f"/>
<path d="M299.5 2643.7H323.8M299.5 2532.1H312M299.5 2420.5H323.8M299.5 2308.8H312M299.5 2197.2H323.8M299.5 2085.6H312M299.5 1974H323.8M299.5 1862.4H312M299.5 1750.7H323.8M299.5 1639.1H312M299.5 1527.5H323.8M417.8 2643.7V2619.4M502 2643.7V2619.4M567.3 2643.7V2619.4M770.2 2643.7V2619.4M973.1 2643.7V2619.4M1091.8 2643.7V2619.4M1176 2643.7V2619.4M1241.3 2643.7V2619.4M1444.2 2643.7V2619.4M1616.3 2643.7V2619.4" stroke="#000" stroke-width="4.4" fill="none"/>
<rect x="299.5" y="1527.5" width="1518.5" height="1116.2" fill="none" stroke="#000" stroke-width="5.2"/>
<text x="274.9" y="2663" font-size="66" text-anchor="end">0.0</text>
<text x="274.9" y="2439.8" font-size="66" text-anchor="end">0.2</text>
<text x="274.9" y="2216.5" font-size="66" text-anchor="end">0.4</text>
<text x="274.9" y="1993.3" font-size="66" text-anchor="end">0.6</text>
<text x="274.9" y="1770" font-size="66" text-anchor="end">0.8</text>
<text x="274.9" y="1546.8" font-size="66" text-anchor="end">1.0</text>
<text x="417.8" y="2719.6" font-size="66" text-anchor="middle">3</text>
<text x="502" y="2719.6" font-size="66" text-anchor="middle">4</text>
<text x="567.3" y="2719.6" font-size="66" text-anchor="middle">5</text>
<text x="770.2" y="2719.6" font-size="66" text-anchor="middle">10</text>
<text x="973.1" y="2719.6" font-size="66" text-anchor="middle">20</text>
<text x="1091.8" y="2719.6" font-size="66" text-anchor="middle">30</text>
<text x="1176" y="2719.6" font-size="66" text-anchor="middle">40</text>
<text x="1241.3" y="2719.6" font-size="66" text-anchor="middle">50</text>
<text x="1444.2" y="2719.6" font-size="66" text-anchor="middle">100</text>
<text x="1616.3" y="2719.6" font-size="66" text-anchor="middle">180</text>
<text x="770.1" y="2828" font-size="65.7" text-anchor="start">Pore Diameter (nm)</text>
<text x="0" y="0" font-size="66.1" text-anchor="middle" transform="translate(127.3 2086.7) rotate(-90)">dv(logd) (cc/g)</text>
<text x="24.7" y="1570.1" font-size="178" text-anchor="start">b</text>
<path d="M1220.7 1657.9H1361.2" stroke="#000" stroke-width="5.5"/>
<rect x="1278.5" y="1645.4" width="25" height="25" fill="#000"/>
<text x="1372" y="1679.6" font-size="67.4" text-anchor="start">SiCN-800</text>
<path d="M1220.7 1741.5H1361.2" stroke="#f00" stroke-width="5.5"/>
<circle cx="1291" cy="1741.5" r="13.9" fill="#f00"/>
<text x="1372" y="1763.2" font-size="67.4" text-anchor="start">SiCN-900</text>
<path d="M1220.7 1825.8H1361.2" stroke="#00f" stroke-width="5.5"/>
<polygon points="1273.8,1816 1308.2,1816 1293,1845.5 1289,1845.5" fill="#00f"/>
<text x="1372" y="1846.8" font-size="67.4" text-anchor="start">SiCN-1100</text>
</svg></body></html>
